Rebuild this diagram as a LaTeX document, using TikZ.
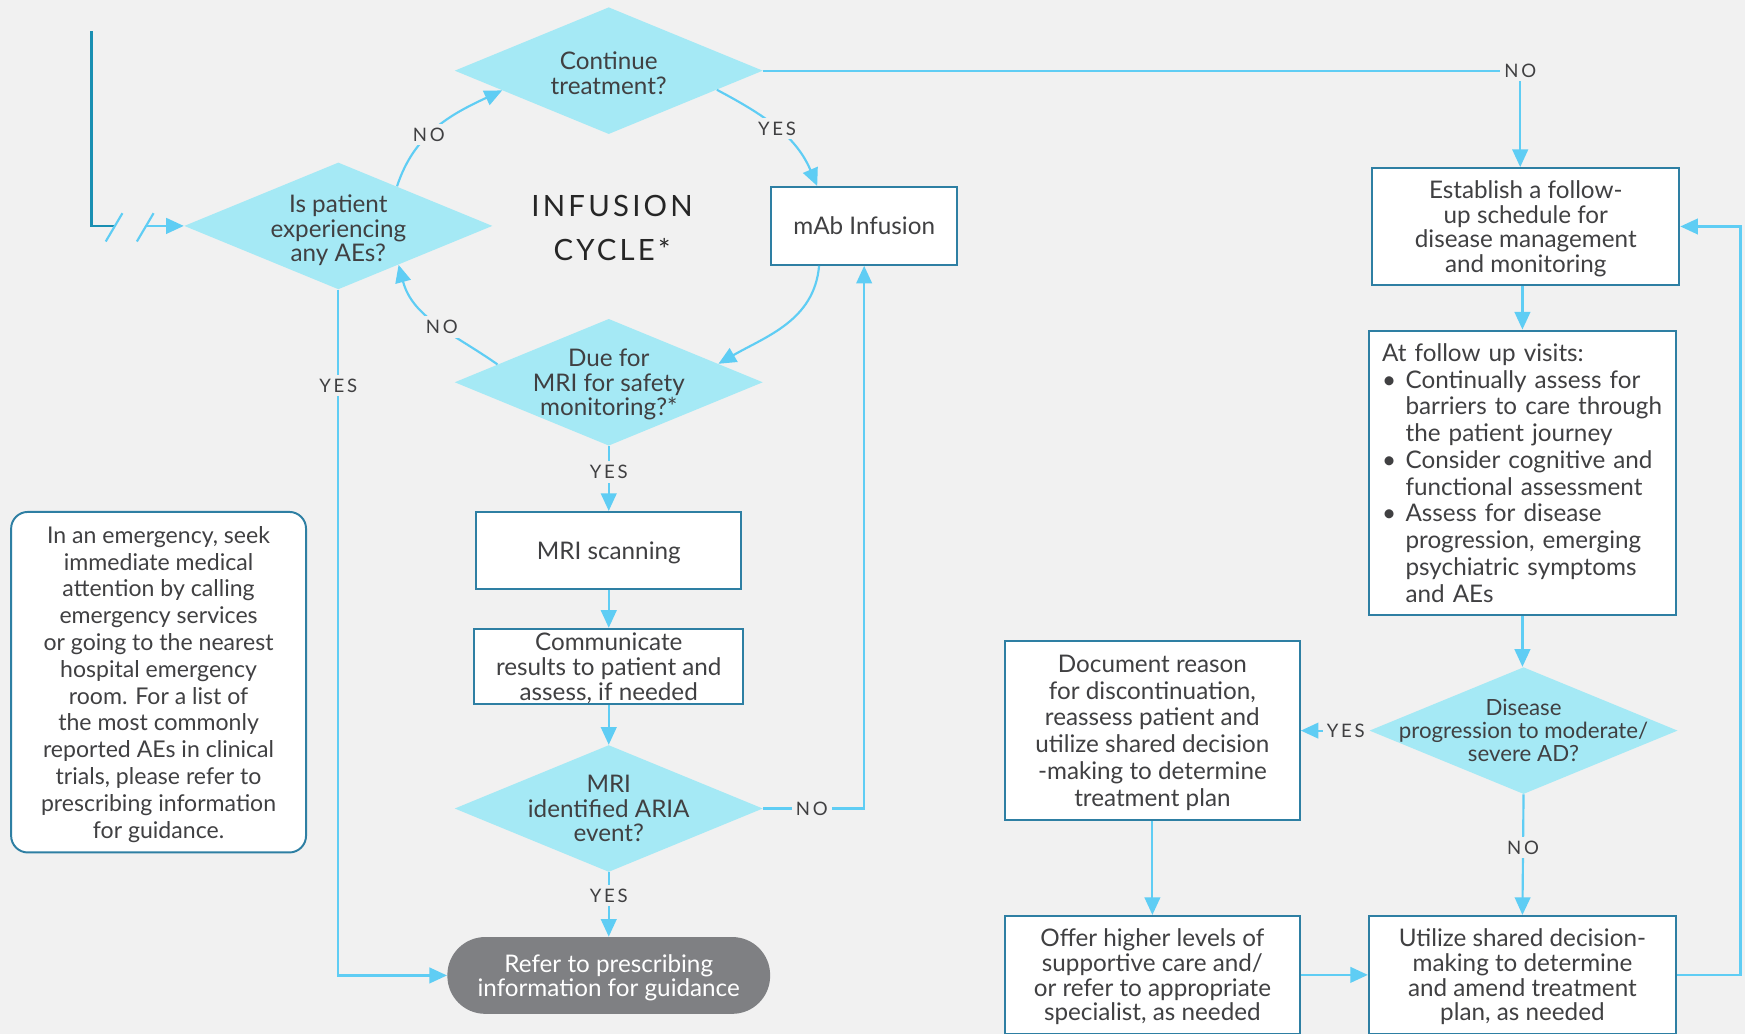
\documentclass[tikz,border=0pt]{standalone}
\usepackage{fontspec}
\setmainfont{Lato}
\newfontfamily\tagfont[LetterSpace=15]{Lato}
\newfontfamily\cyclefont[LetterSpace=11]{Lato}
\usepackage{tikz}
\usetikzlibrary{calc,arrows.meta,shapes.geometric}

\definecolor{bgc}{HTML}{F1F1F1}
\definecolor{decfill}{HTML}{A5E9F5}
\definecolor{flowc}{HTML}{5FCDF4}
\definecolor{boxline}{HTML}{2E7FA3}
\definecolor{startc}{HTML}{1A8FB2}
\definecolor{txtc}{HTML}{404042}
\definecolor{pillc}{HTML}{7F8083}

\newcommand{\itembul}{\makebox[0.42cm][l]{\textbullet}}
\newcommand{\itemgap}{\hspace*{0.42cm}}

\begin{document}
\begin{tikzpicture}[x=0.02cm, y=0.02cm,
	txt/.style={text=txtc, align=center, text depth=0pt, font=\fontsize{12.4}{12.6}\selectfont},
	loose/.style={font=\fontsize{12.4}{13.7}\selectfont},
	dec/.style={diamond, fill=decfill, inner sep=0pt,
		minimum width=277*\px, minimum height=114*\px},
	box/.style={txt, rectangle, draw=boxline, fill=white, line width=1pt, inner sep=0pt},
	flow/.style={draw=flowc, line width=1.1pt, -{Triangle[length=9pt, width=8pt]}},
	brk/.style={draw=flowc, line width=1.1pt},
	lbl/.style={fill=bgc, text=txtc, inner sep=2pt, font=\tagfont\fontsize{9.5}{11}\selectfont},
]

% parameters %{{{2

	\def\px{0.02cm}

% background %{{{2

	\useasboundingbox (0,0) rectangle (1568,-929);
	\fill[bgc] (0,0) rectangle (1568,-929);

% infusion cycle %{{{2

	\node[dec, label={[txt, yshift=-2*\px]center:{Continue\\treatment?}}] (cont) at (547,-63.5) {};
	\node[dec, label={[txt, yshift=-2*\px]center:{Is patient\\experiencing\\any AEs?}}] (ae) at (304,-203) {};
	\node[dec, label={[txt]center:{Due for\\MRI for safety\\monitoring?*}}] (due) at (547,-343.5) {};
	\node[box, minimum width=167*\px, minimum height=70*\px] (infusion) at (776.5,-203) {mAb Infusion};

	\node[text=black!85, align=center, font=\cyclefont\fontsize{15}{22.7}\selectfont] (cycle) at (550,-205) {INFUSION\\CYCLE*};

% MRI branch %{{{2

	\node[box, minimum width=238*\px, minimum height=69*\px] (scan) at (547,-494.5) {MRI scanning};
	\node[box, minimum width=242*\px, minimum height=68*\px] (comm) at (547,-599) {Communicate\\results to patient and\\assess, if needed};
	\node[dec, label={[txt]center:{MRI\\identified ARIA\\event?}}] (aria) at (547,-726.5) {};
	\node[txt, text=white, fill=pillc, rounded corners=0.68cm, inner sep=0pt,
		minimum width=290*\px, minimum height=69*\px] (refer) at (547,-876.5) {Refer to prescribing\\information for guidance};

	\node[box, rounded corners=0.3cm, minimum width=265*\px, minimum height=306*\px,
		font=\fontsize{11.8}{13.7}\selectfont] (emerg) at (142.5,-613)
		{In an emergency, seek\\immediate medical\\attention by calling\\emergency services\\or going to the nearest\\hospital emergency\\room. For a list of\\the most commonly\\reported AEs in clinical\\trials, please refer to\\prescribing information\\for guidance.};

% follow-up branch %{{{2

	\node[box, minimum width=276*\px, minimum height=105*\px] (estab) at (1371,-203.5) {Establish a follow-\\up schedule for\\disease management\\and monitoring};
	\node[box, loose, align=left, text depth=, text width=252*\px, inner xsep=12*\px, minimum height=256*\px] (visits) at (1368,-425)
		{At follow up visits:\\
		\itembul Continually assess for\\
		\itemgap barriers to care through\\
		\itemgap the patient journey\\
		\itembul Consider cognitive and\\
		\itemgap functional assessment\\
		\itembul Assess for disease\\
		\itemgap progression, emerging\\
		\itemgap psychiatric symptoms\\
		\itemgap and AEs};
	\node[dec, label={[txt, font=\fontsize{11.4}{11.7}\selectfont]center:{Disease\\progression to moderate/\\severe AD?}}] (dis) at (1369,-656.5) {};
	\node[box, loose, minimum width=265*\px, minimum height=161*\px] (doc) at (1035.5,-656.5)
		{Document reason\\for discontinuation,\\reassess patient and\\utilize shared decision\\-making to determine\\treatment plan};
	\node[box, minimum width=265*\px, minimum height=106*\px] (offer) at (1035.5,-876)
		{Offer higher levels of\\supportive care and/\\or refer to appropriate\\specialist, as needed};
	\node[box, minimum width=276*\px, minimum height=106*\px] (util) at (1368,-876)
		{Utilize shared decision-\\making to determine\\and amend treatment\\plan, as needed};

% entry line %{{{2

	\coordinate (start) at (82,-28);
	\coordinate (cut) at (103,-203);

	\draw[draw=startc, line width=1.3pt] (start) |- (cut);
	\draw[brk] ($(cut)+(-8,-14)$) -- ++(15,25.4);
	\draw[brk] ($(cut)+(20,-14)$) -- ++(15,25.4);
	\draw[flow] ($(cut)+(28,0)$) -- (ae.west);

% cycle arcs %{{{2

	\draw[flow] ($(cont.south)!0.70!(cont.east)$) to[out=-28, in=113]
		node[lbl, pos=0.5] {YES} ($(infusion.north west)!0.25!(infusion.north east)$);
	\draw[flow] ($(infusion.south west)!0.26!(infusion.south east)$) to[out=-95, in=30]
		($(due.north)!0.71!(due.east)$);
	\draw[flow] ($(due.north)!0.72!(due.west)$) to[out=145, in=-75]
		node[lbl, pos=0.45] {NO} ($(ae.south)!0.39!(ae.east)$);
	\draw[flow] ($(ae.north)!0.38!(ae.east)$) to[out=72, in=-155]
		node[lbl, pos=0.42] {NO} ($(cont.south)!0.69!(cont.west)$);

% straight connectors %{{{2

	\draw[flow] (due.south) -- node[lbl, pos=0.4] {YES} (scan.north);
	\draw[flow] (scan) -- (comm);
	\draw[flow] (comm) -- (aria);
	\draw[flow] (aria) -- node[lbl, pos=0.36] {YES} (refer);
	\draw[flow] (aria.east) -| node[lbl, pos=0.24] {NO} (infusion.south);
	\draw[flow] (ae.south) |- node[lbl, pos=0.07] {YES} (refer.west);
	\draw[flow] (cont.east) -| node[lbl, pos=0.5] {NO} ($(estab.north)+(-5,0)$);

	\draw[flow] (estab.south -| visits.north) -- (visits.north);
	\draw[flow] (visits.south) -- (visits.south |- dis.north);
	\draw[flow] (dis.west) -- node[lbl, pos=0.34] {YES} (doc.east);
	\draw[flow] (dis.south) -- node[lbl, pos=0.44] {NO} (util.north);
	\draw[flow] (doc) -- (offer);
	\draw[flow] (offer) -- (util);

	\coordinate (loop) at (1564,-540);
	\draw[flow] (util.east) -| (loop) |- (estab.east);

% closing %{{{2

\end{tikzpicture}
\end{document}
